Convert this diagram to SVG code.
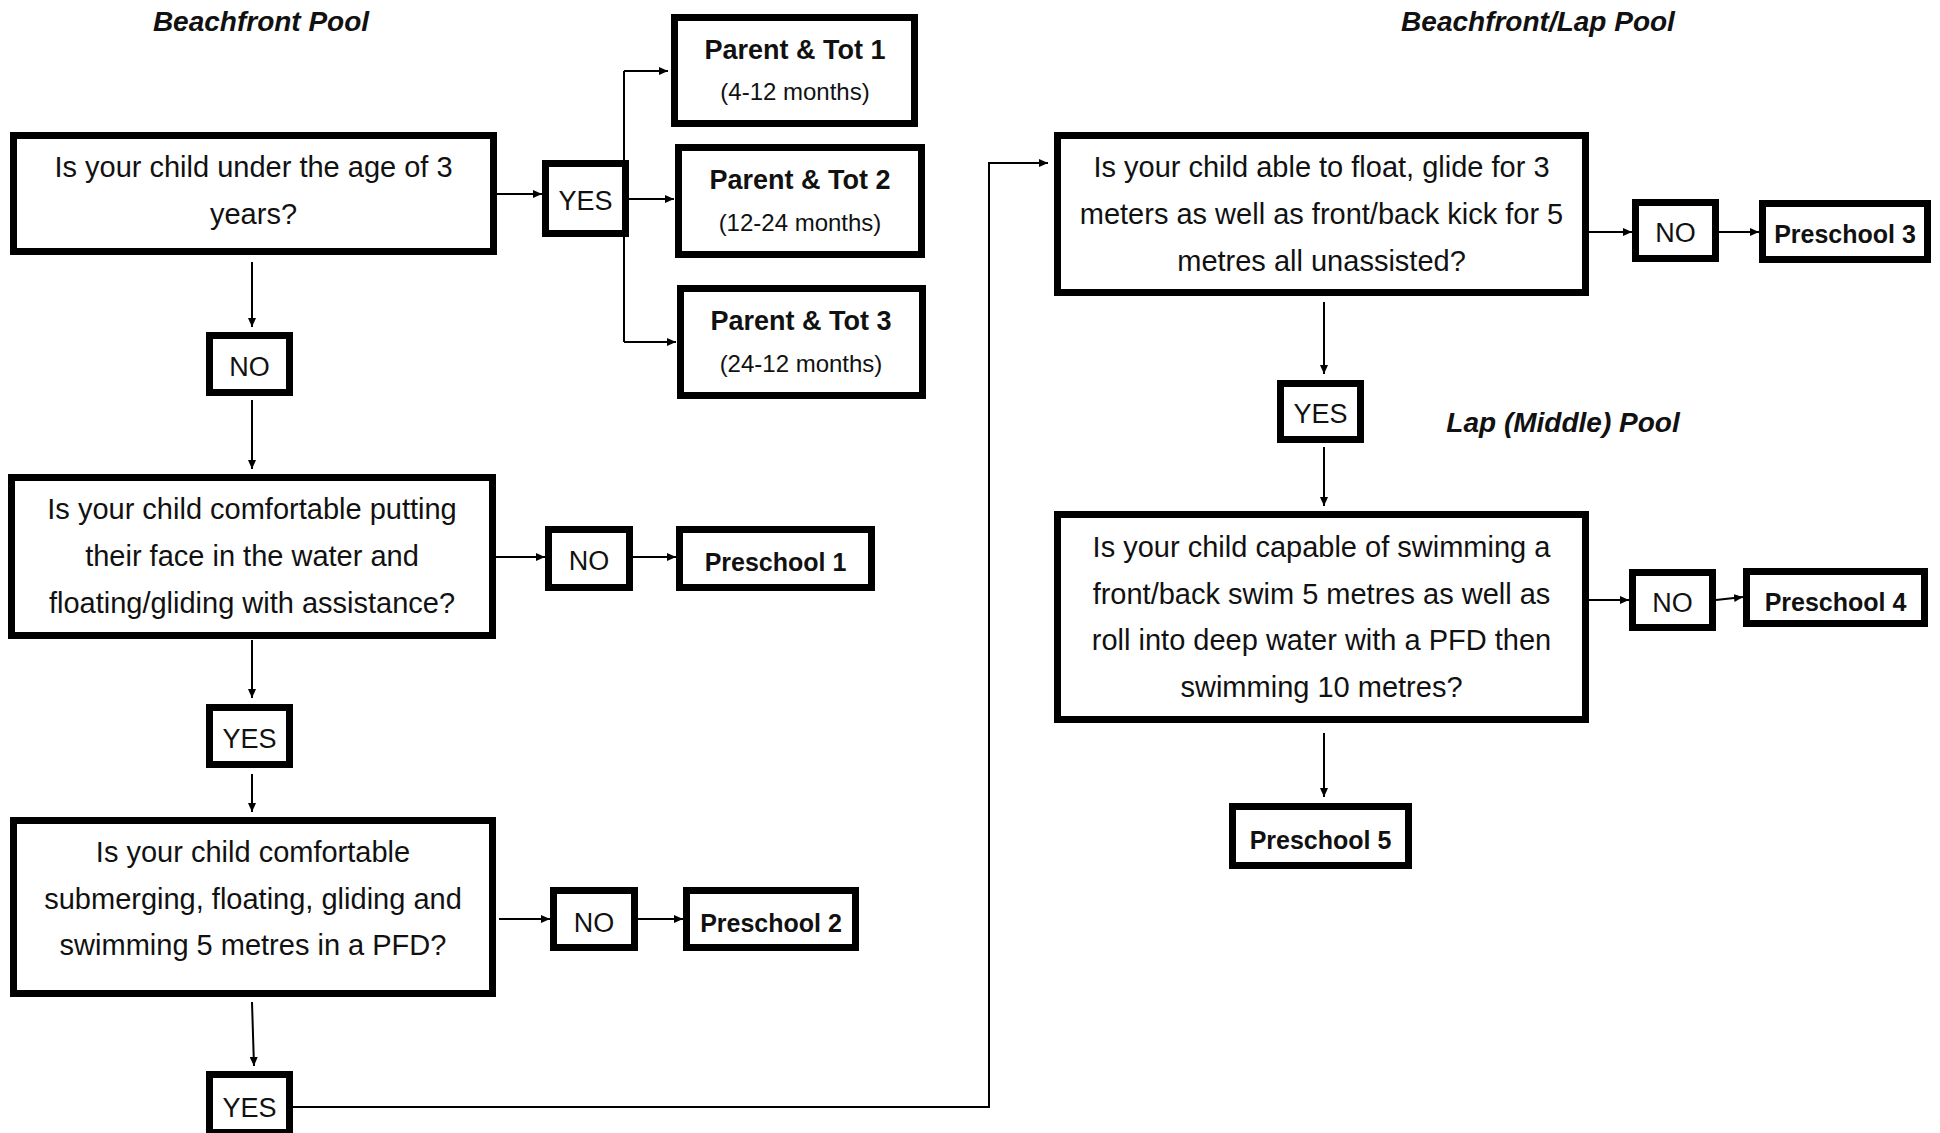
<svg xmlns="http://www.w3.org/2000/svg" width="1940" height="1133" viewBox="0 0 1940 1133">
<defs>
<style>
.box{fill:#fff;stroke:#000;stroke-width:7}
.q{font-family:"Liberation Sans",Arial,sans-serif;font-size:29px;fill:#111;text-anchor:middle}
.yn{font-family:"Liberation Sans",Arial,sans-serif;font-size:27px;fill:#111;text-anchor:middle}
.res{font-family:"Liberation Sans",Arial,sans-serif;font-size:25px;font-weight:bold;fill:#111;text-anchor:middle}
.pt{font-family:"Liberation Sans",Arial,sans-serif;font-size:27px;font-weight:bold;fill:#111;text-anchor:middle}
.sub{font-family:"Liberation Sans",Arial,sans-serif;font-size:24px;fill:#111;text-anchor:middle}
.title{font-family:"Liberation Sans",Arial,sans-serif;font-size:28px;font-weight:bold;font-style:italic;fill:#111;text-anchor:middle}
.c{fill:none;stroke:#000;stroke-width:2}
.a{marker-end:url(#arr)}
</style>
<marker id="arr" markerUnits="userSpaceOnUse" markerWidth="10" markerHeight="8" refX="9" refY="4" orient="auto">
<path d="M0,0 L9,4 L0,8 z" fill="#000"/>
</marker>
</defs>
<rect width="1940" height="1133" fill="#fff"/>

<g id="titles">
<text class="title" x="261" y="31">Beachfront Pool</text>
<text class="title" x="1538" y="31">Beachfront/Lap Pool</text>
<text class="title" x="1563" y="432">Lap (Middle) Pool</text>
</g>

<g id="connectors">
<path class="c a" d="M497,194 H542"/>
<path class="c" d="M624,71 V342"/>
<path class="c a" d="M624,71 H668"/>
<path class="c a" d="M629,199 H674"/>
<path class="c a" d="M624,342 H676"/>
<path class="c a" d="M252,262 V327"/>
<path class="c a" d="M252,400 V469"/>
<path class="c a" d="M496,557 H545"/>
<path class="c a" d="M633,557 H676"/>
<path class="c a" d="M252,640 V698"/>
<path class="c a" d="M252,774 V812"/>
<path class="c a" d="M499,919 H550"/>
<path class="c a" d="M638,919 H683"/>
<path class="c a" d="M252,1002 L254,1066"/>
<path class="c a" d="M293,1107 H989 V163 H1048"/>
<path class="c a" d="M1589,232 H1632"/>
<path class="c a" d="M1719,232 H1759"/>
<path class="c a" d="M1324,302 V374"/>
<path class="c a" d="M1324,447 V506"/>
<path class="c a" d="M1589,600 H1629"/>
<path class="c a" d="M1716,600 L1743,597"/>
<path class="c a" d="M1324,733 V797"/>
</g>

<g id="q1">
<rect class="box" x="13.5" y="135.5" width="480" height="116"/>
<text class="q" x="253.5" y="177">Is your child under the age of 3</text>
<text class="q" x="253.5" y="224">years?</text>
</g>
<g id="yes1">
<rect class="box" x="545.5" y="163.5" width="80" height="70"/>
<text class="yn" x="585.5" y="210">YES</text>
</g>
<g id="pt1">
<rect class="box" x="674.5" y="17.5" width="240" height="106"/>
<text class="pt" x="795" y="59">Parent &amp; Tot 1</text>
<text class="sub" x="795" y="100">(4-12 months)</text>
</g>
<g id="pt2">
<rect class="box" x="678.5" y="147.5" width="243" height="107"/>
<text class="pt" x="800" y="189">Parent &amp; Tot 2</text>
<text class="sub" x="800" y="231">(12-24 months)</text>
</g>
<g id="pt3">
<rect class="box" x="680.5" y="288.5" width="242" height="107"/>
<text class="pt" x="801" y="330">Parent &amp; Tot 3</text>
<text class="sub" x="801" y="372">(24-12 months)</text>
</g>
<g id="no1">
<rect class="box" x="209.5" y="335.5" width="80" height="57"/>
<text class="yn" x="249.5" y="376">NO</text>
</g>
<g id="q2">
<rect class="box" x="11.5" y="477.5" width="481" height="158"/>
<text class="q" x="252" y="519">Is your child comfortable putting</text>
<text class="q" x="252" y="566">their face in the water and</text>
<text class="q" x="252" y="613">floating/gliding with assistance?</text>
</g>
<g id="no2">
<rect class="box" x="548.5" y="529.5" width="81" height="58"/>
<text class="yn" x="589" y="570">NO</text>
</g>
<g id="preschool1">
<rect class="box" x="679.5" y="529.5" width="192" height="58"/>
<text class="res" x="775.5" y="571">Preschool 1</text>
</g>
<g id="yes2">
<rect class="box" x="209.5" y="707.5" width="80" height="57"/>
<text class="yn" x="249.5" y="748">YES</text>
</g>
<g id="q3">
<rect class="box" x="13.5" y="820.5" width="479" height="173"/>
<text class="q" x="253" y="862">Is your child comfortable</text>
<text class="q" x="253" y="909">submerging, floating, gliding and</text>
<text class="q" x="253" y="955">swimming 5 metres in a PFD?</text>
</g>
<g id="no3">
<rect class="box" x="553.5" y="890.5" width="81" height="57"/>
<text class="yn" x="594" y="932">NO</text>
</g>
<g id="preschool2">
<rect class="box" x="686.5" y="890.5" width="169" height="57"/>
<text class="res" x="771" y="932">Preschool 2</text>
</g>
<g id="yes3">
<rect class="box" x="209.5" y="1074.5" width="80" height="58"/>
<text class="yn" x="249.5" y="1117">YES</text>
</g>
<g id="q4">
<rect class="box" x="1057.5" y="135.5" width="528" height="157"/>
<text class="q" x="1321.5" y="177">Is your child able to float, glide for 3</text>
<text class="q" x="1321.5" y="224">meters as well as front/back kick for 5</text>
<text class="q" x="1321.5" y="271">metres all unassisted?</text>
</g>
<g id="no4">
<rect class="box" x="1635.5" y="202.5" width="80" height="56"/>
<text class="yn" x="1675.5" y="242">NO</text>
</g>
<g id="preschool3">
<rect class="box" x="1762.5" y="203.5" width="165" height="56"/>
<text class="res" x="1845" y="243">Preschool 3</text>
</g>
<g id="yes4">
<rect class="box" x="1280.5" y="383.5" width="80" height="56"/>
<text class="yn" x="1320.5" y="423">YES</text>
</g>
<g id="q5">
<rect class="box" x="1057.5" y="514.5" width="528" height="205"/>
<text class="q" x="1321.5" y="557">Is your child capable of swimming a</text>
<text class="q" x="1321.5" y="604">front/back swim 5 metres as well as</text>
<text class="q" x="1321.5" y="650">roll into deep water with a PFD then</text>
<text class="q" x="1321.5" y="697">swimming 10 metres?</text>
</g>
<g id="no5">
<rect class="box" x="1632.5" y="572.5" width="80" height="55"/>
<text class="yn" x="1672.5" y="612">NO</text>
</g>
<g id="preschool4">
<rect class="box" x="1746.5" y="571.5" width="178" height="52"/>
<text class="res" x="1835.5" y="611">Preschool 4</text>
</g>
<g id="preschool5">
<rect class="box" x="1232.5" y="806.5" width="176" height="59"/>
<text class="res" x="1320.5" y="849">Preschool 5</text>
</g>
</svg>
